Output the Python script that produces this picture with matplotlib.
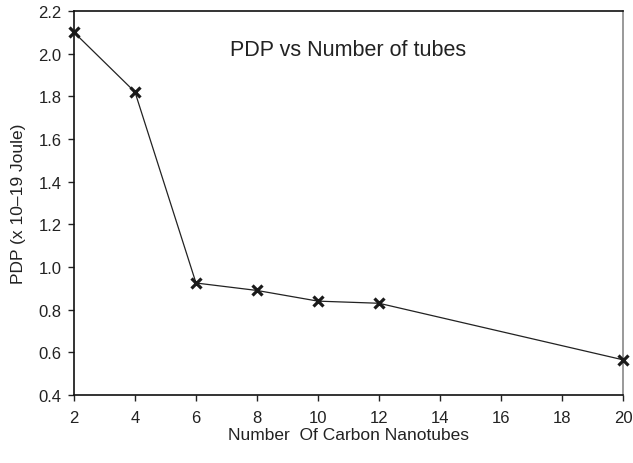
import matplotlib
matplotlib.use("Agg")
import matplotlib.pyplot as plt

n_tubes = [2, 4, 6, 8, 10, 12, 20]
pdp = [2.10, 1.82, 0.925, 0.89, 0.84, 0.83, 0.565]
x_ticks = [2, 4, 6, 8, 10, 12, 14, 16, 18, 20]
y_ticks = [0.4, 0.6, 0.8, 1.0, 1.2, 1.4, 1.6, 1.8, 2.0, 2.2]

plt.rcParams['font.family'] = ['Liberation Sans', 'DejaVu Sans']

fig = plt.figure(figsize=(6.33, 4.64), dpi=100)
ax = fig.add_axes([74/633, 1 - 396/464, (623 - 74)/633, (396 - 12)/464])

ax.plot(n_tubes, pdp, color='#222222', lw=0.9, marker='x', ms=7, mew=2.3,
        mec='#1a1a1a', clip_on=False, zorder=3)

ax.set_xlim(2, 20)
ax.set_ylim(0.4, 2.2)
ax.set_xticks(x_ticks)
ax.set_yticks(y_ticks)
ax.set_xticklabels([str(v) for v in x_ticks])
ax.set_yticklabels([f"{v:.1f}" for v in y_ticks])
ax.tick_params(direction='out', length=4, width=1, labelsize=12, colors='#222222', pad=5)
ax.tick_params(axis='x', pad=7)

for s in ['left', 'bottom', 'top']:
    ax.spines[s].set_color('#111111')
    ax.spines[s].set_linewidth(1.2)
ax.spines['right'].set_color('#888888')
ax.spines['right'].set_linewidth(1.2)

ax.text(0.5, 0.9, 'PDP vs Number of tubes', transform=ax.transAxes,
        ha='center', va='center', fontsize=15.5, color='#222222')

ax.set_xlabel('Number  Of Carbon Nanotubes', fontsize=12.5, color='#222222', labelpad=1)
ax.set_ylabel('PDP (x 10\u201319 Joule)', fontsize=12.5, color='#222222', labelpad=9)

fig.savefig('out.png', dpi=100)
